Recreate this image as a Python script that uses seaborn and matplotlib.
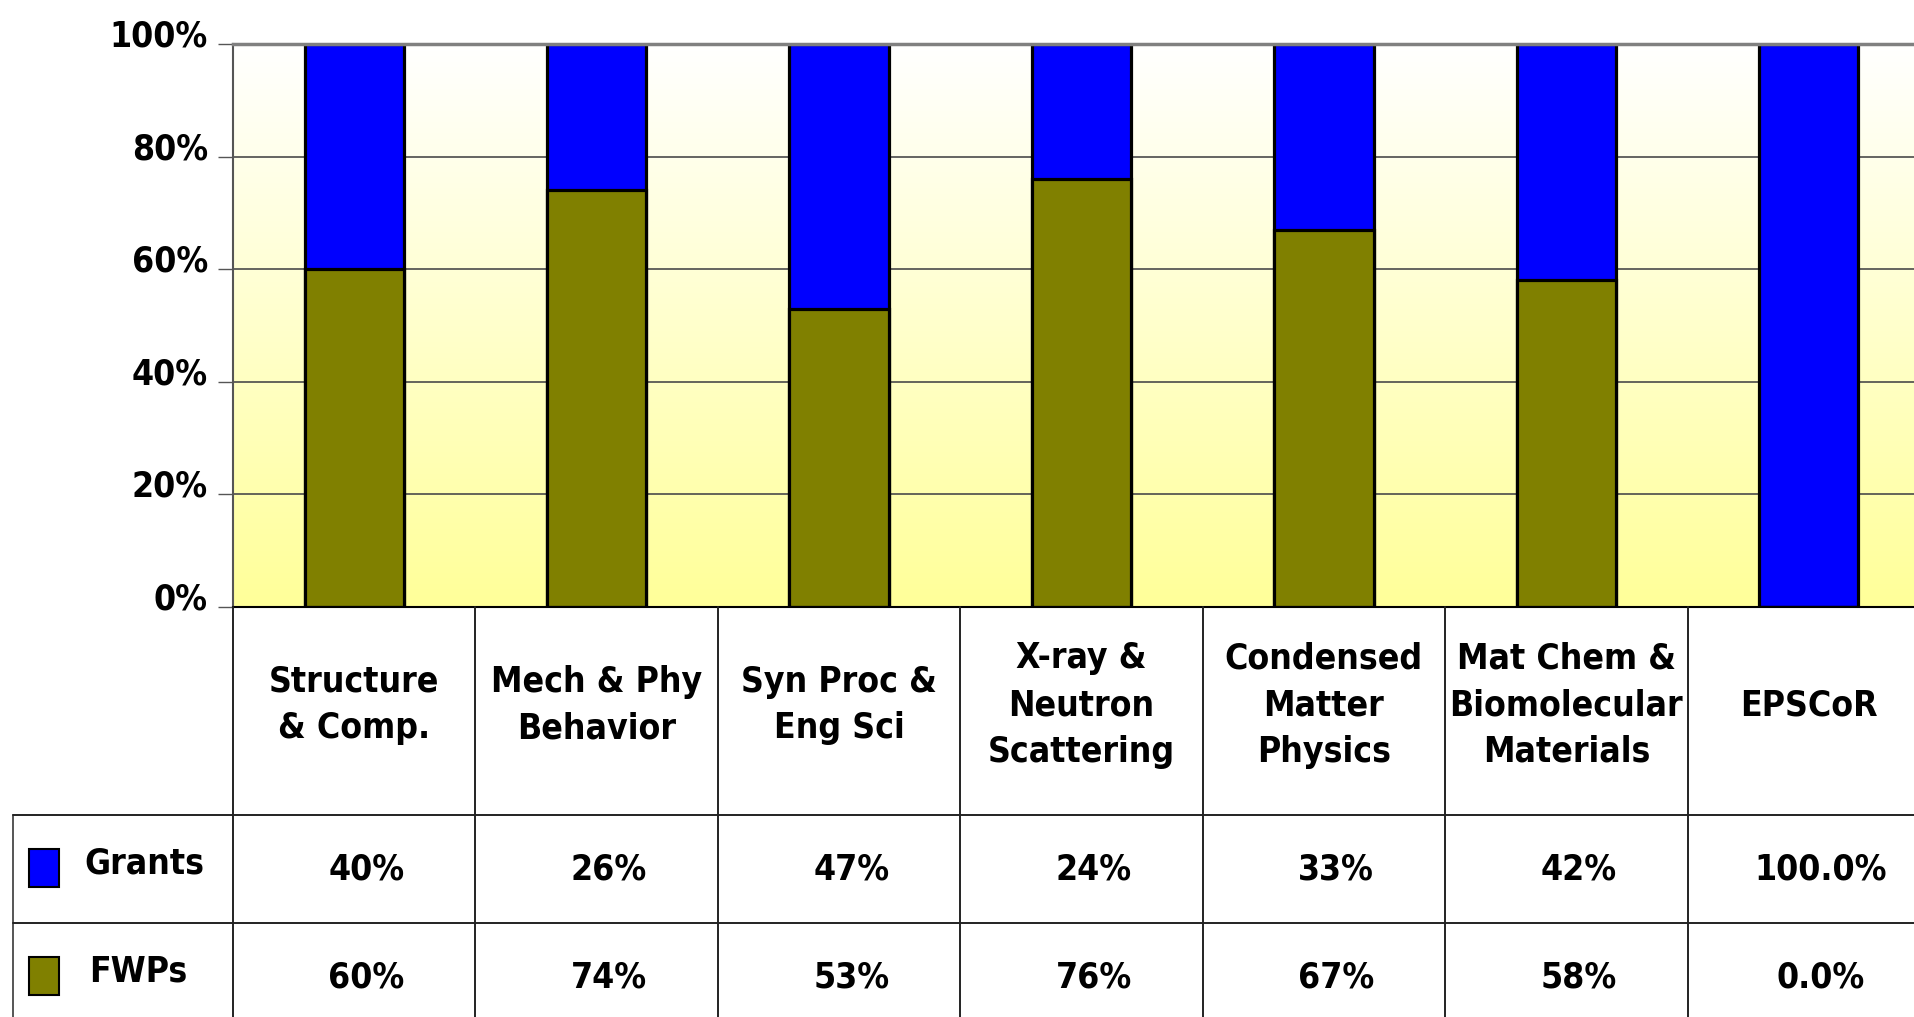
import numpy as np
import pandas as pd
import matplotlib
matplotlib.use("Agg")
import matplotlib.pyplot as plt
import seaborn as sns
from matplotlib import font_manager
from matplotlib.font_manager import FontProperties
from matplotlib.colors import LinearSegmentedColormap
from matplotlib.patches import Rectangle
from matplotlib.transforms import ScaledTranslation

# ---------------- data ----------------
categories = ["Structure\n& Comp.", "Mech & Phy\nBehavior", "Syn Proc &\nEng Sci",
              "X-ray &\nNeutron\nScattering", "Condensed\nMatter\nPhysics",
              "Mat Chem &\nBiomolecular\nMaterials", "EPSCoR"]
grants = [40, 26, 47, 24, 33, 42, 100]
fwps = [60, 74, 53, 76, 67, 58, 0]
grants_labels = ["40%", "26%", "47%", "24%", "33%", "42%", "100.0%"]
fwps_labels = ["60%", "74%", "53%", "76%", "67%", "58%", "0.0%"]
series_names = ["Grants", "FWPs"]
series_colors = ["#0000FF", "#808000"]
yticks = [0, 20, 40, 60, 80, 100]
ytick_labels = ["0%", "20%", "40%", "60%", "80%", "100%"]

# ---------------- style ----------------
sns.set_theme(style="white")
plt.rcParams["font.family"] = ["Liberation Sans", "DejaVu Sans"]
plt.rcParams["text.color"] = "black"
plt.rcParams["ytick.color"] = "black"

# look for a narrow / condensed bold sans face
cands = []
for f in font_manager.fontManager.ttflist:
    key = (f.name + " " + str(f.fname)).lower()
    if ("narrow" in key or "condensed" in key or str(f.stretch) in ("condensed", "semi-condensed", "extra-condensed")) \
            and "mono" not in key and "serif" not in key.replace("sans-serif", "").replace("sans", ""):
        cands.append(f)


def score(f):
    key = (f.name + " " + str(f.fname)).lower()
    w = f.weight if isinstance(f.weight, int) else (700 if "bold" in str(f.weight) else 400)
    s = 0
    if "liberation" in key or "arial" in key:
        s += 100
    if "noto" in key:
        s += 80
    if "extra" in key or "ultra" in key:
        s -= 30
    if "semi" in key:
        s -= 10
    if 600 <= w <= 750:
        s += 50
    elif w > 750:
        s += 20
    if "italic" in str(f.style) or "oblique" in str(f.style) or "italic" in key:
        s -= 200
    return s


if cands:
    cands.sort(key=score, reverse=True)
    FP = FontProperties(fname=cands[0].fname, size=32)
else:
    FP = FontProperties(family=["Liberation Sans", "DejaVu Sans"], weight="bold", size=32)

W, H = 1915, 1017
fig = plt.figure(figsize=(W / 100, H / 100), dpi=100)

# size the font so text widths match the reference
renderer = fig.canvas.get_renderer()
ratios = []
for s, target in [("Biomolecular", 226), ("100%", 95), ("Structure", 172)]:
    t = fig.text(0, 0, s, fontproperties=FP)
    ratios.append(target / t.get_window_extent(renderer).width)
    t.remove()
FS = min(32, 32 * float(np.mean(ratios)) * 1.02)
FP.set_size(FS)
line_sp = 1.15 * 49 / (48 * FS / 32)

# chart axes geometry (pixels)
x_left, x_right = 233, 1930
y_top, y_base = 44, 607
ax = fig.add_axes([x_left / W, (H - y_base) / H, (x_right - x_left) / W, (y_base - y_top) / H])

# y tick labels sit slightly above their gridlines, as in the reference
_orig_text1 = ax.get_yaxis_text1_transform


def _shifted_text1(pad_points):
    tr, va, ha = _orig_text1(pad_points)
    return tr + ScaledTranslation(0, 0.075, fig.dpi_scale_trans), "center", ha


ax.get_yaxis_text1_transform = _shifted_text1

df = pd.DataFrame({"cat": categories, "grants": grants, "fwps": fwps})
df["total"] = df["grants"] + df["fwps"]

# background gradient
cmap = LinearSegmentedColormap.from_list("bg", ["#FFFF99", "#FFFFFF"])
ax.imshow(np.linspace(0, 1, 256).reshape(-1, 1), extent=(-0.5, len(categories) - 0.5, 0, 100),
          aspect="auto", cmap=cmap, origin="lower", zorder=-2)

sns.barplot(data=df, x="cat", y="total", color=series_colors[0], saturation=1,
            width=0.41, edgecolor="black", linewidth=2.3, ax=ax, zorder=2)
sns.barplot(data=df, x="cat", y="fwps", color=series_colors[1], saturation=1,
            width=0.41, edgecolor="black", linewidth=2.3, ax=ax, zorder=3)

ax.set_xlim(-0.5, len(categories) - 0.5)
ax.set_ylim(0, 100)
ax.tick_params(axis="y", direction="out", length=11, width=1, color="#555555", pad=7, left=True)
ax.set_yticks(yticks)
ax.set_yticklabels(ytick_labels, color="black")
for lab in ax.get_yticklabels():
    lab.set_fontproperties(FP)
    lab.set_color("black")
    lab.set_va("center")
ax.set_xticks([])
ax.set_xlabel("")
ax.set_ylabel("")
ax.yaxis.grid(True, color="#4a4a4a", linewidth=1.2)
ax.set_axisbelow(True)
ax.spines["top"].set_color("#808080")
ax.spines["top"].set_linewidth(2.5)
ax.spines["left"].set_color("#555555")
ax.spines["left"].set_linewidth(1.5)
ax.spines["bottom"].set_color("black")
ax.spines["bottom"].set_linewidth(1.5)
ax.spines["right"].set_visible(False)
for sp in ax.spines.values():
    sp.set_zorder(5)

# ---------------- table ----------------
t_left, t_bottom = 13, 1031
units_per_px = len(categories) / (x_right - x_left)
xl = -0.5 - (x_left - t_left) * units_per_px
tax = fig.add_axes([t_left / W, (H - t_bottom) / H, (x_right - t_left) / W, (t_bottom - y_base) / H])
tax.set_xlim(xl, len(categories) - 0.5)
header_h, row_h = 208, 108
tax.set_ylim(header_h + 2 * row_h, 0)
tax.axis("off")

lc = "#222222"
lw = 1.4
for i in range(len(categories) + 1):
    tax.plot([i - 0.5, i - 0.5], [0, header_h + 2 * row_h], color=lc, lw=lw, clip_on=False)
tax.plot([xl, xl], [header_h, header_h + 2 * row_h], color="#555555", lw=lw, clip_on=False)
for yy in [header_h, header_h + row_h]:
    tax.plot([xl, len(categories) - 0.5], [yy, yy], color=lc, lw=lw, clip_on=False)

for i, c in enumerate(categories):
    tax.text(i, header_h / 2 - 6, c, ha="center", va="center", fontproperties=FP,
             linespacing=line_sp, color="black")

row_labels = [grants_labels, fwps_labels]
for r, (name, col, labs) in enumerate(zip(series_names, series_colors, row_labels)):
    yc = header_h + row_h * r + row_h / 2
    sw_x = xl + (29 - t_left) * units_per_px
    sw_w = 30 * units_per_px
    tax.add_patch(Rectangle((sw_x, yc - 20), sw_w, 38, facecolor=col, edgecolor="black",
                            linewidth=1.5, clip_on=False))
    tx = xl + (84 - t_left + (5 if r == 1 else 0)) * units_per_px
    tax.text(tx, yc - 5, name, ha="left", va="center", fontproperties=FP, color="black")
    for i, lab in enumerate(labs):
        tax.text(i + 0.05, yc, lab, ha="center", va="center", fontproperties=FP, color="black")

fig.savefig("out.png", dpi=100, facecolor="white")
